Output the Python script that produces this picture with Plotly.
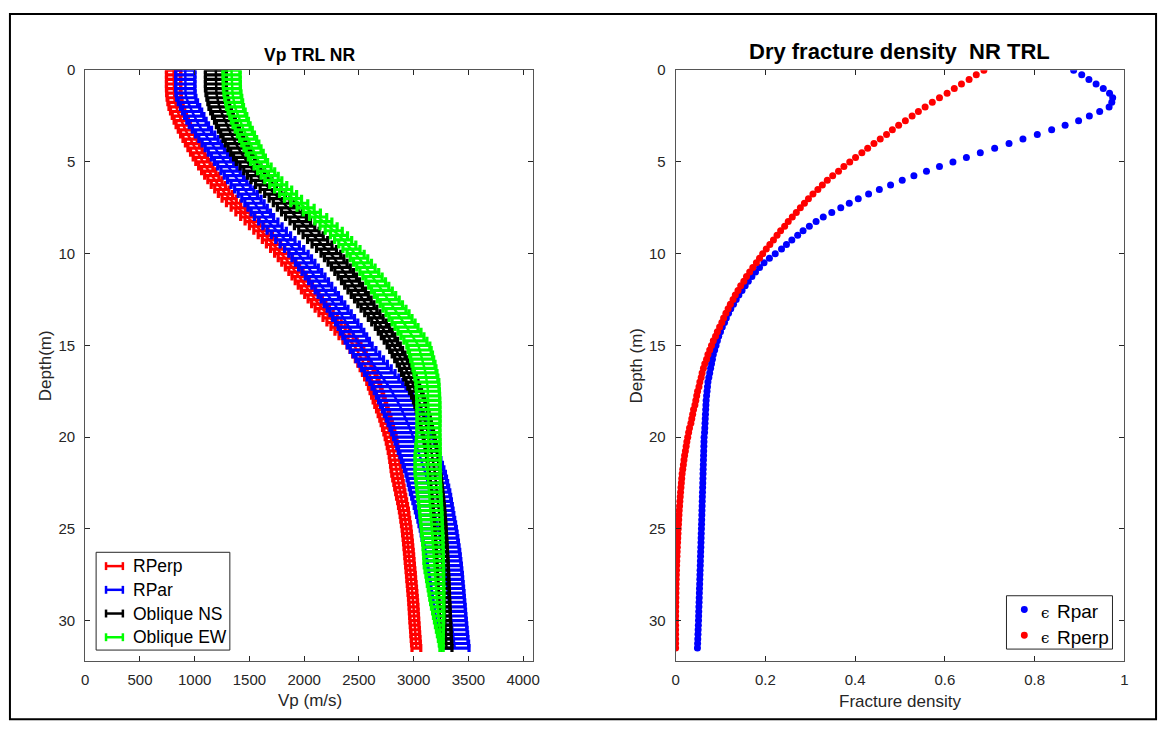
import plotly.graph_objects as go

W, H = 1169, 737

# ---------------- data ----------------
depth = [round(i * 0.25, 2) for i in range(127)]  # 0 .. 31.5 m sampling grid

# Left panel: Vp (m/s) centre values and half-widths of horizontal error bars
vp_rperp = [807, 807, 807, 807, 807, 809, 813, 820, 830, 844, 860, 877,
            895, 915, 936, 958, 980, 1003, 1027, 1051, 1075, 1101, 1128, 1156,
            1185, 1216, 1248, 1281, 1315, 1355, 1398, 1441, 1485, 1525, 1565, 1605,
            1645, 1683, 1720, 1758, 1795, 1828, 1860, 1893, 1925, 1954, 1983, 2011,
            2040, 2070, 2101, 2133, 2165, 2200, 2237, 2273, 2310, 2346, 2383, 2419,
            2455, 2482, 2505, 2528, 2550, 2570, 2590, 2609, 2628, 2643, 2657, 2671,
            2685, 2699, 2714, 2728, 2742, 2754, 2766, 2778, 2790, 2799, 2807, 2815,
            2823, 2828, 2834, 2839, 2845, 2853, 2862, 2870, 2878, 2886, 2895, 2903,
            2911, 2917, 2923, 2929, 2935, 2939, 2944, 2948, 2952, 2956, 2960, 2963,
            2967, 2971, 2975, 2978, 2982, 2986, 2989, 2993, 2996, 2999, 3001, 3004,
            3006, 3009, 3012, 3015, 3018, 3021, 3025]
err_rperp = [65, 65, 65, 65, 65, 65, 65, 65, 65, 65, 65, 65,
             65, 65, 65, 65, 65, 65, 65, 65, 65, 65, 65, 65,
             65, 65, 65, 65, 65, 65, 65, 65, 65, 65, 65, 65,
             65, 65, 65, 65, 65, 65, 65, 65, 65, 65, 65, 65,
             65, 65, 65, 65, 65, 65, 65, 65, 65, 65, 65, 65,
             64, 63, 62, 61, 60, 59, 58, 57, 56, 56, 55, 55,
             55, 54, 53, 52, 51, 51, 50, 50, 50, 49, 48, 47,
             46, 46, 45, 45, 45, 44, 43, 43, 42, 42, 41, 41,
             41, 40, 40, 40, 40, 40, 40, 40, 40, 40, 40, 40,
             40, 40, 40, 40, 40, 40, 40, 40, 40, 40, 40, 40,
             40, 40, 40, 40, 40, 40, 40]

vp_rpar = [914, 914, 914, 914, 914, 916, 923, 938, 958, 976, 996, 1016,
           1038, 1066, 1096, 1126, 1156, 1184, 1212, 1240, 1268, 1298, 1328, 1358,
           1388, 1420, 1453, 1485, 1518, 1546, 1575, 1604, 1633, 1672, 1710, 1749,
           1788, 1828, 1868, 1908, 1948, 1978, 2009, 2039, 2070, 2100, 2131, 2161,
           2192, 2220, 2248, 2277, 2305, 2333, 2360, 2388, 2415, 2438, 2462, 2485,
           2508, 2538, 2569, 2599, 2630, 2660, 2690, 2720, 2750, 2775, 2800, 2825,
           2850, 2870, 2890, 2910, 2930, 2947, 2964, 2980, 2997, 3011, 3026, 3040,
           3055, 3069, 3083, 3096, 3110, 3120, 3130, 3140, 3150, 3160, 3169, 3179,
           3188, 3197, 3207, 3216, 3225, 3233, 3240, 3248, 3255, 3262, 3268, 3275,
           3281, 3286, 3292, 3297, 3302, 3307, 3312, 3317, 3322, 3327, 3331, 3336,
           3341, 3347, 3352, 3358, 3363, 3370, 3376]
err_rpar = [88, 88, 88, 88, 88, 88, 88, 88, 88, 88, 88, 88,
            88, 88, 88, 88, 88, 88, 88, 88, 88, 88, 88, 88,
            88, 88, 88, 88, 88, 88, 88, 88, 88, 88, 88, 88,
            88, 88, 88, 88, 88, 89, 89, 90, 90, 90, 91, 91,
            92, 93, 93, 94, 95, 97, 100, 102, 105, 107, 109, 111,
            113, 117, 121, 126, 130, 135, 140, 145, 150, 155, 160, 165,
            170, 173, 175, 178, 180, 180, 180, 180, 180, 180, 180, 180,
            180, 180, 180, 180, 180, 180, 180, 180, 180, 178, 176, 174,
            172, 170, 168, 167, 165, 164, 163, 161, 160, 159, 158, 156,
            155, 154, 153, 151, 150, 149, 148, 146, 145, 144, 143, 141,
            140, 138, 136, 135, 133, 132, 130]

vp_obl_ns = [1193, 1193, 1193, 1193, 1193, 1198, 1206, 1215, 1225, 1241, 1258, 1276,
             1293, 1313, 1333, 1354, 1374, 1399, 1424, 1450, 1475, 1509, 1543, 1576,
             1610, 1651, 1693, 1734, 1775, 1813, 1850, 1888, 1925, 1964, 2004, 2043,
             2082, 2123, 2163, 2204, 2244, 2274, 2305, 2335, 2365, 2394, 2423, 2451,
             2480, 2508, 2536, 2564, 2592, 2623, 2654, 2684, 2715, 2741, 2767, 2792,
             2818, 2840, 2863, 2885, 2907, 2927, 2946, 2966, 2985, 3001, 3018, 3034,
             3050, 3063, 3075, 3088, 3100, 3110, 3120, 3130, 3140, 3148, 3155, 3163,
             3170, 3176, 3183, 3189, 3195, 3200, 3205, 3210, 3215, 3219, 3224, 3228,
             3232, 3235, 3239, 3242, 3245, 3248, 3251, 3253, 3256, 3258, 3261, 3263,
             3265, 3267, 3269, 3271, 3273, 3275, 3277, 3278, 3280, 3282, 3284, 3285,
             3287, 3289, 3291, 3293, 3295, 3298, 3300]
err_obl_ns = [95, 95, 95, 95, 95, 95, 95, 95, 95, 95, 95, 95,
              95, 95, 95, 95, 95, 95, 95, 95, 95, 95, 95, 95,
              95, 95, 95, 95, 95, 95, 95, 95, 95, 94, 93, 93,
              92, 92, 91, 91, 90, 89, 87, 86, 85, 84, 82, 81,
              80, 78, 76, 74, 72, 70, 68, 67, 65, 64, 62, 61,
              60, 59, 59, 58, 57, 57, 56, 56, 55, 54, 54, 53,
              52, 52, 52, 52, 52, 52, 52, 52, 52, 52, 52, 52,
              52, 52, 52, 52, 52, 52, 52, 52, 52, 52, 52, 52,
              52, 52, 52, 52, 51, 51, 51, 51, 51, 51, 51, 51,
              51, 51, 51, 51, 50, 50, 50, 50, 50, 50, 50, 50,
              50, 50, 50, 50, 50, 50, 50]

vp_obl_ew = [1336, 1337, 1338, 1339, 1340, 1345, 1352, 1360, 1368, 1383, 1398, 1413,
             1428, 1448, 1468, 1488, 1508, 1528, 1548, 1568, 1588, 1620, 1653, 1685,
             1718, 1763, 1808, 1853, 1898, 1955, 2013, 2070, 2128, 2175, 2223, 2270,
             2318, 2356, 2394, 2432, 2470, 2501, 2533, 2564, 2595, 2624, 2653, 2681,
             2710, 2739, 2768, 2796, 2825, 2853, 2880, 2908, 2935, 2962, 2989, 3016,
             3043, 3055, 3067, 3078, 3090, 3099, 3108, 3116, 3125, 3127, 3130, 3132,
             3134, 3135, 3135, 3136, 3136, 3136, 3135, 3135, 3134, 3133, 3131, 3130,
             3128, 3128, 3128, 3128, 3128, 3131, 3134, 3137, 3140, 3144, 3148, 3151,
             3155, 3158, 3161, 3164, 3167, 3170, 3173, 3175, 3178, 3180, 3182, 3183,
             3185, 3189, 3193, 3196, 3200, 3204, 3208, 3211, 3215, 3219, 3224, 3228,
             3232, 3236, 3240, 3244, 3248, 3252, 3255]
err_obl_ew = [78, 78, 78, 78, 78, 78, 78, 78, 78, 78, 78, 78,
              78, 78, 78, 78, 78, 78, 78, 78, 78, 78, 78, 78,
              78, 78, 78, 78, 78, 78, 78, 78, 78, 78, 78, 78,
              78, 78, 78, 78, 78, 80, 82, 84, 86, 88, 90, 92,
              95, 97, 100, 102, 105, 105, 105, 105, 105, 105, 105, 105,
              105, 105, 105, 105, 105, 105, 105, 105, 105, 105, 105, 105,
              105, 105, 105, 105, 105, 105, 105, 105, 107, 109, 111, 113,
              115, 115, 115, 115, 115, 113, 111, 110, 108, 107, 105, 104,
              102, 101, 100, 98, 97, 96, 95, 93, 92, 91, 90, 89,
              88, 85, 81, 78, 75, 71, 68, 64, 60, 56, 51, 47,
              42, 37, 32, 27, 22, 18, 15]

# Right panel: dry fracture density
eps_rpar = [0.887, 0.905, 0.921, 0.937, 0.953, 0.967, 0.974, 0.972,
            0.966, 0.945, 0.922, 0.898, 0.868, 0.838, 0.806, 0.774,
            0.743, 0.711, 0.679, 0.648, 0.618, 0.588, 0.559, 0.531,
            0.505, 0.479, 0.454, 0.430, 0.407, 0.387, 0.368, 0.348,
            0.329, 0.313, 0.298, 0.284, 0.272, 0.259, 0.247, 0.236,
            0.222, 0.209, 0.197, 0.187, 0.178, 0.170, 0.162, 0.155,
            0.148, 0.141, 0.135, 0.129, 0.123, 0.118, 0.113, 0.109,
            0.104, 0.100, 0.096, 0.093, 0.090, 0.087, 0.084, 0.082,
            0.080, 0.078, 0.076, 0.074, 0.072, 0.071, 0.070, 0.069,
            0.068, 0.0675, 0.067, 0.0665, 0.066, 0.0655, 0.065, 0.0645,
            0.0635, 0.0632, 0.0629, 0.0626, 0.0623, 0.062, 0.0617, 0.0614,
            0.0611, 0.0608, 0.0605, 0.0602, 0.0599, 0.0596, 0.0593, 0.059,
            0.0587, 0.0584, 0.0581, 0.0578, 0.0575, 0.0571, 0.0568, 0.0565,
            0.0562, 0.0558, 0.0555, 0.0552, 0.0549, 0.0545, 0.0542, 0.0539,
            0.0536, 0.0532, 0.0529, 0.0526, 0.0523, 0.0519, 0.0516, 0.0513,
            0.051, 0.0506, 0.0502, 0.0498, 0.0494, 0.049, 0.0486]
eps_rperp = [0.687, 0.670, 0.654, 0.637, 0.621, 0.605, 0.588, 0.572,
             0.556, 0.541, 0.527, 0.512, 0.497, 0.483, 0.470, 0.456,
             0.442, 0.428, 0.415, 0.401, 0.388, 0.375, 0.363, 0.350,
             0.338, 0.327, 0.317, 0.306, 0.296, 0.287, 0.278, 0.269,
             0.260, 0.251, 0.243, 0.234, 0.226, 0.218, 0.210, 0.202,
             0.194, 0.187, 0.180, 0.172, 0.165, 0.158, 0.152, 0.145,
             0.139, 0.133, 0.128, 0.122, 0.117, 0.112, 0.107, 0.103,
             0.098, 0.093, 0.089, 0.084, 0.080, 0.076, 0.072, 0.069,
             0.065, 0.062, 0.059, 0.057, 0.054, 0.052, 0.049, 0.047,
             0.045, 0.043, 0.040, 0.038, 0.036, 0.034, 0.031, 0.029,
             0.027, 0.025, 0.0235, 0.0218, 0.020, 0.0186, 0.0173, 0.0159,
             0.0145, 0.0136, 0.0128, 0.0119, 0.011, 0.0103, 0.0095, 0.0088,
             0.008, 0.0075, 0.0069, 0.0064, 0.0058, 0.0053, 0.0048, 0.0043,
             0.0038, 0.0034, 0.0030, 0.0026, 0.0022, 0.0019, 0.0016, 0.0013,
             0.0010, 0.0008, 0.0007, 0.0005, 0.0003, 0.0002, 0.0001, 0.0,
             0.0, 0.0, 0.0, 0.0, 0.0, 0.0, 0.0]

vp_series = ["RPerp", "RPar", "Oblique NS", "Oblique EW"]
eps_series = ["Rpar", "Rperp"]
vp_ticks = [0, 500, 1000, 1500, 2000, 2500, 3000, 3500, 4000]
eps_ticks = [0, 0.2, 0.4, 0.6, 0.8, 1]
depth_ticks = [0, 5, 10, 15, 20, 25, 30]

for arr in (vp_rperp, err_rperp, vp_rpar, err_rpar, vp_obl_ns, err_obl_ns,
            vp_obl_ew, err_obl_ew, eps_rpar, eps_rperp):
    assert len(arr) == len(depth), len(arr)

# ---------------- style ----------------
FONT = "Liberation Sans, Arial, Helvetica, sans-serif"
AX = "#262626"
C_RED, C_BLUE, C_BLACK, C_GREEN = "#FF0000", "#0000FF", "#000000", "#00FF00"


def X(px):
    return px / W


def Y(py):
    return 1 - py / H


fig = go.Figure()

vp_data = [(vp_rperp, err_rperp, C_RED), (vp_rpar, err_rpar, C_BLUE),
           (vp_obl_ns, err_obl_ns, C_BLACK), (vp_obl_ew, err_obl_ew, C_GREEN)]
for name, (vals, errs, col) in zip(vp_series, vp_data):
    fig.add_trace(go.Scatter(
        x=vals, y=depth, mode="lines", name=name,
        line=dict(color=col, width=2.5),
        error_x=dict(type="data", array=errs, symmetric=True, color=col,
                     thickness=3.2, width=4),
        xaxis="x", yaxis="y", showlegend=False, hoverinfo="skip"))

for name, vals, col in zip(eps_series, [eps_rpar, eps_rperp], [C_BLUE, C_RED]):
    fig.add_trace(go.Scatter(
        x=vals, y=depth, mode="markers", name=name,
        marker=dict(color=col, size=7, line=dict(width=0)),
        xaxis="x2", yaxis="y2", showlegend=False, hoverinfo="skip"))

axis_common = dict(showline=True, linecolor="#555555", linewidth=1, mirror="ticks",
                   ticks="inside", ticklen=5, tickwidth=1, tickcolor=AX,
                   showgrid=False, zeroline=False,
                   tickfont=dict(family=FONT, size=15, color=AX))

ydom = [Y(660), Y(62)]
fig.update_layout(
    width=W, height=H, margin=dict(l=0, r=0, t=0, b=0),
    paper_bgcolor="white", plot_bgcolor="white", showlegend=False,
    xaxis=dict(domain=[X(82), X(534)], range=[0, 4090], tickvals=vp_ticks,
               anchor="y", ticklabelstandoff=5, **axis_common),
    yaxis=dict(domain=ydom, range=[32.2, 0], tickvals=depth_ticks,
               anchor="x", ticklabelstandoff=6, **axis_common),
    xaxis2=dict(domain=[X(678), X(1131)], range=[0, 1], tickvals=eps_ticks,
                anchor="y2", ticklabelstandoff=5, **axis_common),
    yaxis2=dict(domain=ydom, range=[32.2, 0], tickvals=depth_ticks,
                anchor="x2", ticklabelstandoff=6, **axis_common),
)

ann = []


def text(px, py, s, size, bold=False, angle=0, xanchor="center", family=FONT, color="#000000"):
    ann.append(dict(xref="paper", yref="paper", x=X(px), y=Y(py), text=(f"<b>{s}</b>" if bold else s),
                    showarrow=False, xanchor=xanchor, yanchor="middle", textangle=angle,
                    font=dict(family=family, size=size, color=color)))


# titles
text(308, 46.5, "Vp TRL NR", 17.5, bold=True)
text(904.5, 43.5, "Dry fracture density  NR TRL", 22, bold=True)
# axis titles
text(308.5, 700, "Vp (m/s)", 17, color=AX)
text(904.5, 701, "Fracture density", 17, color=AX)
text(42, 361, "Depth(m)", 17, angle=-90, color=AX)
text(639, 361, "Depth (m)", 17, angle=-90, color=AX)

shapes = []
# outer frame
shapes.append(dict(type="rect", xref="paper", yref="paper", x0=X(6), x1=X(1163), y0=Y(719), y1=Y(5),
                   line=dict(color="#000000", width=2), fillcolor="rgba(0,0,0,0)", layer="above"))

# left legend (errorbar icons)
shapes.append(dict(type="rect", xref="paper", yref="paper", x0=X(93), x1=X(228), y0=Y(649), y1=Y(550),
                   line=dict(color=AX, width=1), fillcolor="white", layer="above"))
leg_y = [564, 588, 612, 636]
for name, (_, _, col), yy in zip(vp_series, vp_data, leg_y):
    shapes.append(dict(type="line", xref="paper", yref="paper", x0=X(103), x1=X(120), y0=Y(yy), y1=Y(yy),
                       line=dict(color=col, width=2.5), layer="above"))
    for xc in (103, 120):
        shapes.append(dict(type="line", xref="paper", yref="paper", x0=X(xc), x1=X(xc), y0=Y(yy - 4), y1=Y(yy + 4),
                           line=dict(color=col, width=2.5), layer="above"))
    text(128, yy, name, 17.5, xanchor="left")

# right legend (dot markers)
shapes.append(dict(type="rect", xref="paper", yref="paper", x0=X(1012), x1=X(1119), y0=Y(648), y1=Y(594),
                   line=dict(color=AX, width=1), fillcolor="white", layer="above"))
for name, col, yy in zip(eps_series, [C_BLUE, C_RED], [608, 634]):
    shapes.append(dict(type="circle", xref="paper", yref="paper", x0=X(1026.5), x1=X(1033.5),
                       y0=Y(yy + 3.5), y1=Y(yy - 3.5),
                       line=dict(width=0), fillcolor=col, layer="above"))
    text(1050.5, yy + 3, "ϵ", 15, family="DejaVu Serif, serif")
    text(1061, yy + 2, name, 19, xanchor="left")

fig.update_layout(annotations=ann, shapes=shapes)
fig.write_html("out.html")
